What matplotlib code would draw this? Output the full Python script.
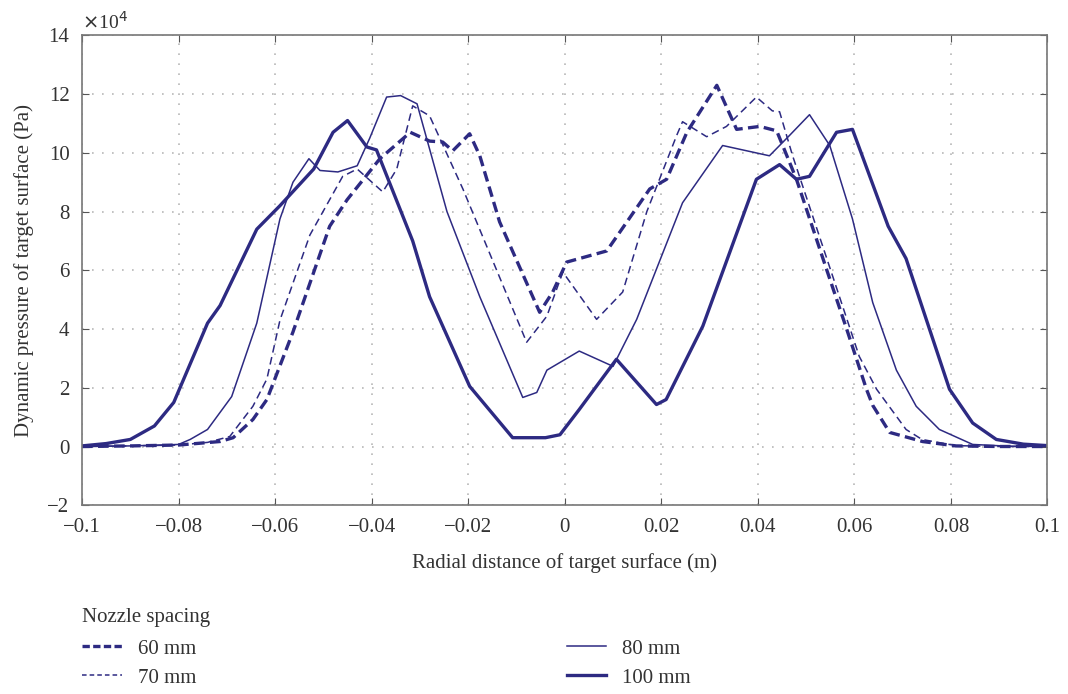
import numpy as np
import matplotlib
matplotlib.use('Agg')
import matplotlib.pyplot as plt
from matplotlib.lines import Line2D

# radial distance (m) and dynamic pressure (x1e4 Pa)
x_60 = [-0.1, -0.09, -0.08, -0.0714, -0.0687, -0.0646, -0.0617, -0.0563, -0.0487, -0.0451,
        -0.0383, -0.032, -0.028, -0.0253, -0.0232, -0.0197, -0.0176, -0.0135, -0.0052,
        -0.0025, 0.0004, 0.0087, 0.0176, 0.0211, 0.0253, 0.0315, 0.0356, 0.0404, 0.0439,
        0.048, 0.0543, 0.0584, 0.0625, 0.0638, 0.0673, 0.0741, 0.081, 0.09, 0.1]
p_60 = [0.0, 0.02, 0.05, 0.17, 0.3, 0.92, 1.6, 3.9, 7.5, 8.4,
        9.8, 10.7, 10.4, 10.37, 10.07, 10.65, 9.9, 7.65, 4.57,
        5.26, 6.28, 6.66, 8.77, 9.1, 10.7, 12.3, 10.8, 10.9, 10.75,
        9.1, 6.0, 4.0, 1.95, 1.4, 0.48, 0.17, 0.02, 0.0, 0.0]

x_70 = [-0.1, -0.09, -0.08, -0.074, -0.0694, -0.0646, -0.0617, -0.059, -0.0528, -0.046,
        -0.043, -0.0377, -0.0348, -0.0315, -0.028, -0.0211, -0.0079, -0.0037, -0.0004,
        0.0066, 0.012, 0.017, 0.0232, 0.0244, 0.0294, 0.0335, 0.0397, 0.043, 0.0445,
        0.0472, 0.0555, 0.061, 0.0646, 0.0707, 0.074, 0.081, 0.09, 0.1]
p_70 = [0.0, 0.02, 0.05, 0.14, 0.34, 1.37, 2.3, 4.3, 7.2, 9.2,
        9.45, 8.67, 9.45, 11.6, 11.26, 8.77, 3.55, 4.44, 5.94,
        4.33, 5.26, 8.0, 10.6, 11.06, 10.55, 10.9, 11.9, 11.43, 11.4,
        9.9, 5.8, 3.07, 1.95, 0.58, 0.24, 0.03, 0.0, 0.0]

x_80 = [-0.1, -0.09, -0.08, -0.0776, -0.074, -0.069, -0.0638, -0.059, -0.0563, -0.053,
        -0.0507, -0.047, -0.043, -0.0404, -0.0369, -0.034, -0.0306, -0.0244, -0.0176,
        -0.0087, -0.0058, -0.0037, 0.003, 0.01, 0.0149, 0.0244, 0.0327, 0.0424, 0.0466,
        0.0507, 0.0549, 0.0596, 0.0638, 0.0687, 0.0728, 0.0776, 0.0845, 0.092, 0.1]
p_80 = [0.0, 0.02, 0.07, 0.24, 0.58, 1.7, 4.2, 7.75, 9.0, 9.8,
        9.4, 9.35, 9.56, 10.5, 11.9, 11.95, 11.67, 8.0, 5.1,
        1.67, 1.84, 2.6, 3.25, 2.73, 4.33, 8.3, 10.25, 9.9, 10.6,
        11.3, 10.25, 7.75, 4.9, 2.6, 1.37, 0.58, 0.07, 0.01, 0.0]

x_100 = [-0.1, -0.095, -0.09, -0.085, -0.081, -0.074, -0.0714, -0.0638, -0.059, -0.052,
         -0.048, -0.045, -0.041, -0.039, -0.0315, -0.028, -0.0197, -0.0108, -0.004,
         -0.001, 0.003, 0.0107, 0.019, 0.021, 0.0286, 0.0397, 0.0445, 0.048, 0.0507,
         0.0563, 0.0596, 0.067, 0.0707, 0.0797, 0.0845, 0.0894, 0.095, 0.1]
p_100 = [0.02, 0.1, 0.24, 0.7, 1.5, 4.2, 4.8, 7.4, 8.2, 9.45,
         10.7, 11.1, 10.2, 10.1, 7.0, 5.1, 2.05, 0.3, 0.3,
         0.4, 1.26, 2.97, 1.43, 1.6, 4.1, 9.1, 9.6, 9.1, 9.2,
         10.7, 10.8, 7.5, 6.4, 1.95, 0.8, 0.24, 0.08, 0.03]

labels = ['60 mm', '70 mm', '80 mm', '100 mm']
xticks = [-0.1, -0.08, -0.06, -0.04, -0.02, 0, 0.02, 0.04, 0.06, 0.08, 0.1]
xticklabels = ['\u22120.1', '\u22120.08', '\u22120.06', '\u22120.04', '\u22120.02', '0',
               '0.02', '0.04', '0.06', '0.08', '0.1']
yticks = [-2, 0, 2, 4, 6, 8, 10, 12, 14]
yticklabels = ['\u22122', '0', '2', '4', '6', '8', '10', '12', '14']

navy = '#2d2a82'
plt.rcParams['font.family'] = ['Liberation Serif', 'DejaVu Serif']

fig = plt.figure(figsize=(10.68, 6.94), dpi=100)
ax = fig.add_axes([0.0768, 0.272, 0.904, 0.677])

ax.plot(x_60, p_60, color=navy, lw=2.4, ls=(0, (3.2, 1.6)))
ax.plot(x_70, p_70, color=navy, lw=1.1, ls=(0, (5, 3)))
ax.plot(x_80, p_80, color=navy, lw=1.1, ls='-')
ax.plot(x_100, p_100, color=navy, lw=2.4, ls='-')

ax.set_xlim(-0.1, 0.1)
ax.set_ylim(-2, 14)
ax.set_xticks(xticks)
ax.set_xticklabels(xticklabels)
ax.set_yticks(yticks)
ax.set_yticklabels(yticklabels)
ax.grid(True, color='#b8b8b8', ls=(0, (1, 5)), lw=1.2)
ax.tick_params(direction='in', length=5, labelsize=15, colors='#555555',
               labelcolor='#333333', top=True, right=True, pad=9)
for s in ax.spines.values():
    s.set_color('#777777')
    s.set_linewidth(1.2)

ax.set_xlabel('Radial distance of target surface (m)', fontsize=15, color='#333333', labelpad=12)
ax.set_ylabel('Dynamic pressure of target surface (Pa)', fontsize=15, color='#333333', labelpad=10)
ax.text(0.0, 1.005, '$\\times$10$^4$', transform=ax.transAxes, fontsize=14,
        color='#333333', va='bottom', ha='left')

handles = [
    Line2D([], [], color=navy, lw=2.4, ls=(0, (2.2, 1.0))),
    Line2D([], [], color=navy, lw=1.1, ls=(0, (3, 2))),
    Line2D([], [], color=navy, lw=1.1, ls='-'),
    Line2D([], [], color=navy, lw=2.4, ls='-'),
]
leg = fig.legend(handles, labels, loc='upper left', bbox_to_anchor=(0.0596, 0.106),
                 ncol=2, frameon=False, fontsize=15, handlelength=1.9,
                 columnspacing=17.8, handletextpad=0.75, labelspacing=0.45)
fig.text(0.0768, 0.096, 'Nozzle spacing', fontsize=15, color='#333333', va='bottom', ha='left')
for t in leg.get_texts():
    t.set_color('#333333')

fig.savefig('out.png', dpi=100)
